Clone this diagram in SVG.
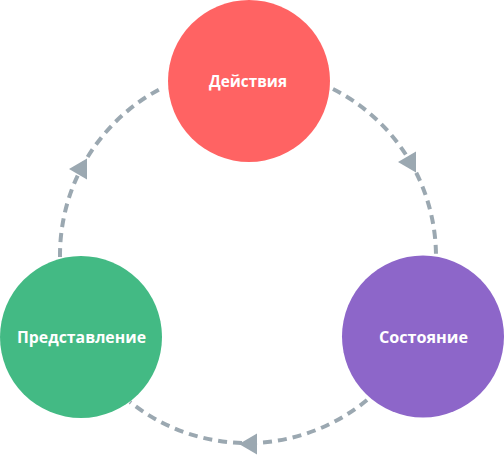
<svg xmlns="http://www.w3.org/2000/svg" xmlns:xlink="http://www.w3.org/1999/xlink" width="504" height="463" viewBox="0 0 504 463">
<style>
.conn{fill:none;stroke:#9BA8B1;stroke-width:4;stroke-dasharray:9 6}
.lbl{font-family:"Open Sans","Liberation Sans",sans-serif;font-weight:bold;font-size:16.5px;fill:#FFFFFF;text-anchor:middle}
</style>
<defs>
<polygon id="ah" points="0,0 18,-10.5 18,10.5" fill="#9BA8B1"/>
</defs>
<rect width="504" height="463" fill="#FFFFFF"/>
<g id="connectors">
<path class="conn" d="M60,257 A188,188 0 0,1 162,88"/>
<path class="conn" d="M333,89 A188,188 0 0,1 436,256"/>
<path class="conn" d="M367,400 A188,188 0 0,1 130,402"/>
<use xlink:href="#ah" x="69" y="169"/>
<use xlink:href="#ah" x="398" y="162"/>
<use xlink:href="#ah" x="239" y="444"/>
</g>
<g id="node-actions">
<circle cx="249" cy="81" r="81" fill="#FF6363"/>
<text class="lbl" x="248" y="87" textLength="78" lengthAdjust="spacingAndGlyphs">Действия</text>
</g>
<g id="node-view">
<circle cx="81" cy="337" r="81" fill="#43BA84"/>
<text class="lbl" x="81.5" y="343" textLength="129" lengthAdjust="spacingAndGlyphs">Представление</text>
</g>
<g id="node-state">
<circle cx="423" cy="336.5" r="81" fill="#8D66C9"/>
<text class="lbl" x="423.5" y="343" textLength="89" lengthAdjust="spacingAndGlyphs">Состояние</text>
</g>
</svg>
